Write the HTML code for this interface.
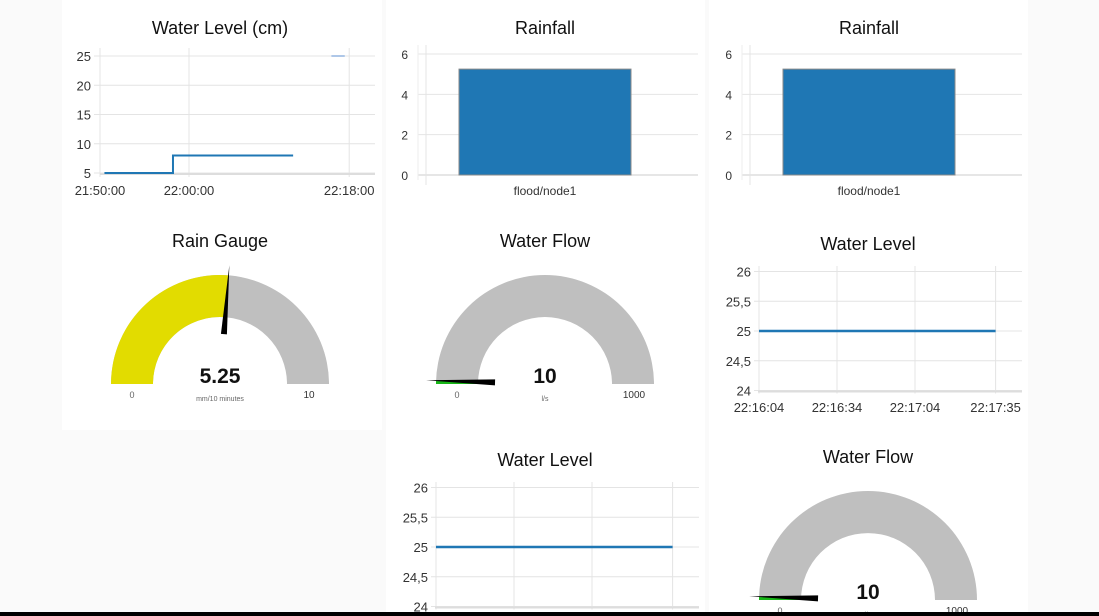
<!DOCTYPE html>
<html><head><meta charset="utf-8"><style>
html,body{margin:0;padding:0;background:#fafafa;}
body{width:1099px;height:616px;overflow:hidden;position:relative;font-family:"Liberation Sans",sans-serif;}
svg{position:absolute;left:0;top:0;}
text{font-family:"Liberation Sans",sans-serif;}
</style></head><body>
<svg id="s" width="1099" height="616">
<rect x="62" y="0" width="320" height="430" fill="#fff"/>
<rect x="386" y="0" width="319" height="616" fill="#fff"/>
<rect x="709" y="0" width="319" height="616" fill="#fff"/>
<g id="g"></g>
<rect x="0" y="612" width="1099" height="4" fill="#000"/>
</svg>
<script>
// ---- data ----
const wlTimes = [0.5, 8.2, 8.2, 21.7];       // minutes after 21:50
const wlValues = [5, 5, 8, 8];
const wl2Times = [26.0, 27.5];
const wl2Values = [25, 25];
const wlYTicks = [5, 10, 15, 20, 25];
const wlXTickMins = [0, 10, 28];
const wlXTickLabels = ["21:50:00", "22:00:00", "22:18:00"];
const rainCategories = ["flood/node1"];
const rainValues = [5.25];
const rainTicks = [0, 2, 4, 6];
const levelTimes = [0, 91];                   // seconds after 22:16:04
const levelValues = [25, 25];
const levelYTicks = [24, 24.5, 25, 25.5, 26];
const levelXTickSecs = [0, 30, 60, 91];
const levelXTickLabels = ["22:16:04", "22:16:34", "22:17:04", "22:17:35"];
const rainGauge = [5.25, 0, 10];
const flowGauge = [10, 0, 1000];

const NS = "http://www.w3.org/2000/svg";
const G = document.getElementById('g');
function el(tag, attrs, parent) {
  const e = document.createElementNS(NS, tag);
  for (const k in attrs) e.setAttribute(k, attrs[k]);
  (parent || G).appendChild(e);
  return e;
}
function txt(x, y, s, size, anchor, extra) {
  const t = el('text', Object.assign({x: x, y: y, 'font-size': size, 'text-anchor': anchor || 'middle', fill: '#333'}, extra || {}));
  t.textContent = s;
  return t;
}
function title(x, y, s) {
  const t = txt(x, y, s, 18, 'middle', {fill: '#111'});
  
  
}

// ---- Water Level (cm) ----
title(220, 34, "Water Level (cm)");
(function () {
  const x = m => 100 + m * 8.9;
  const y = v => 173 - (v - 5) * 5.85;
  const L = 100, R = 375, T = 48, B = 173;
  wlYTicks.forEach(v => {
    const g = el('line', {x1: L - 6, x2: R, y1: y(v), y2: y(v), stroke: '#e4e4e4'});
    
    
    txt(L - 9, y(v) + 5, String(v), 13, 'end');
  });
  wlXTickMins.forEach((m, i) => {
    el('line', {x1: x(m), x2: x(m), y1: T, y2: B + 4, stroke: '#e4e4e4'});
    const t = txt(x(m), 195, wlXTickLabels[i], 13, 'middle');
    
    
  });
  el('line', {x1: L, x2: R, y1: B + 1, y2: B + 1, stroke: '#ddd', 'stroke-width': 2});
  const p = el('polyline', {points: wlTimes.map((t, i) => x(t) + ',' + y(wlValues[i])).join(' '), fill: 'none', stroke: '#1f77b4', 'stroke-width': 2});
  
  
  const p2 = el('polyline', {points: wl2Times.map((t, i) => x(t) + ',' + y(wl2Values[i])).join(' '), fill: 'none', stroke: '#aec7e8', 'stroke-width': 2});
  
  
})();

// ---- Rainfall bars ----
function rainfall(ox) {
  title(ox + 159, 34, "Rainfall");
  const y = v => 175 - v * 20.17;
  const L = ox + 32, R = ox + 312;
  rainTicks.forEach(v => {
    el('line', {x1: L, x2: R, y1: y(v), y2: y(v), stroke: v === 0 ? '#ccc' : '#e4e4e4'});
    txt(L - 10, y(v) + 5, String(v), 12, 'end');
  });
  el('line', {x1: L, x2: L, y1: 45, y2: 180, stroke: '#eee'});
  el('line', {x1: L + 8, x2: L + 8, y1: 45, y2: 185, stroke: '#e4e4e4'});
  rainCategories.forEach((c, i) => {
    const b = el('rect', {x: ox + 73, y: y(rainValues[i]), width: 172, height: y(0) - y(rainValues[i]), fill: '#1f77b4', stroke: '#888', 'stroke-width': 1});
    
    
    txt(ox + 159, 195, c, 12, 'middle');
  });
}
rainfall(386);
rainfall(710);

// ---- Water Level line charts ----
function level(ox, oy, showX) {
  title(ox + 159, oy - 21 + 0, "Water Level");
  const x = s => ox + 50 + s * 2.6;
  const y = v => oy + 60 - (v - 25) * 59.5;
  const L = ox + 49, R = ox + 313;
  levelYTicks.forEach(v => {
    el('line', {x1: L - 4, x2: R, y1: y(v), y2: y(v), stroke: '#e4e4e4'});
    txt(L - 7, y(v) + 5, String(v).replace('.', ','), 13, 'end');
  });
  levelXTickSecs.forEach((s, i) => {
    el('line', {x1: x(s), x2: x(s), y1: oy - 5, y2: y(24) + 3, stroke: '#e4e4e4'});
    if (showX) txt(x(s), oy + 141, levelXTickLabels[i], 13, 'middle');
  });
  el('line', {x1: L, x2: R, y1: y(24) + 1, y2: y(24) + 1, stroke: '#ddd', 'stroke-width': 2});
  const p = el('polyline', {points: levelTimes.map((t, i) => x(t) + ',' + y(levelValues[i])).join(' '), fill: 'none', stroke: '#1f77b4', 'stroke-width': 2.5});
  
  
}
level(709, 271, true);
level(386, 487, false);

// ---- Gauges ----
function gauge(cx, cy, t, data, unit, color) {
  title(cx, cy - 137, t);
  const [v, mn, mx] = data;
  const f = (v - mn) / (mx - mn);
  const R = 109, r = 67;
  const pt = (rr, ff) => [cx - rr * Math.cos(Math.PI * ff), cy - rr * Math.sin(Math.PI * ff)];
  function arc(f0, f1, fill, name) {
    const a = pt(R, f0), b = pt(R, f1), c = pt(r, f1), d = pt(r, f0);
    const p = el('path', {d: `M${a} A${R},${R} 0 0 1 ${b} L${c} A${r},${r} 0 0 0 ${d} Z`, fill: fill});
    
    
  }
  arc(0, 1, '#bfbfbf', 'gauge-background');
  if (f > 0) arc(0, f, color, 'gauge-value-arc');
  const ang = Math.PI * f, ux = -Math.cos(ang), uy = -Math.sin(ang), nx = -uy, ny = ux;
  const b = [cx + ux * 50, cy + uy * 50], tip = [cx + ux * 119, cy + uy * 119];
  const n = el('polygon', {points: `${b[0] + nx * 3},${b[1] + ny * 3} ${b[0] - nx * 3},${b[1] - ny * 3} ${tip[0]},${tip[1]}`, fill: '#000'});
  
  
  txt(cx, cy - 1, String(v), 21, 'middle', {'font-weight': 'bold', fill: '#111'});
  txt(cx, cy + 17, unit, 7, 'middle', {fill: '#666'});
  txt(cx - 88, cy + 14, String(mn), 9, 'middle', {fill: '#666'});
  txt(cx + 89, cy + 14, String(mx), 10, 'middle', {fill: '#333'});
}
gauge(220, 384, "Rain Gauge", rainGauge, "mm/10 minutes", '#e2dc00');
gauge(545, 384, "Water Flow", flowGauge, "l/s", '#17b617');
gauge(868, 600, "Water Flow", flowGauge, "l/s", '#17b617');
</script>
</body></html>
